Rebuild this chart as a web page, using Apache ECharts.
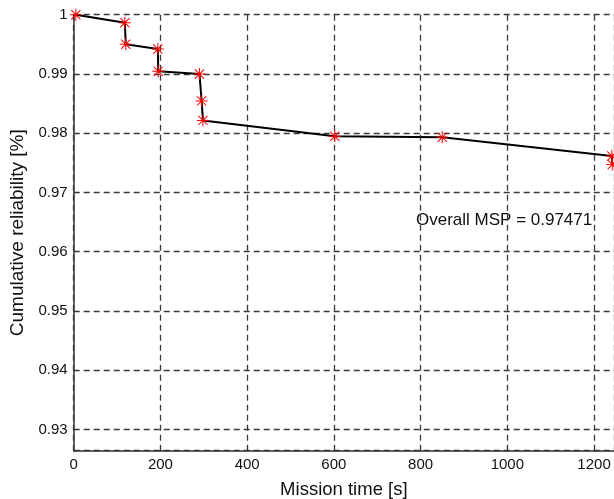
<!DOCTYPE html>
<html>
<head>
<meta charset="utf-8">
<script src="https://cdn.jsdelivr.net/npm/echarts@6/dist/echarts.min.js"></script>
<style>
html,body{margin:0;padding:0;background:#fff;}
#c{width:614px;height:499px;}
</style>
</head>
<body>
<div id="c"></div>
<script>
// Data
const missionTime = [5, 118, 120, 194, 195, 290, 295, 298, 602, 850, 1241, 1242];
const reliability = [1.0, 0.99864, 0.99501, 0.9942, 0.99044, 0.9900, 0.98545, 0.98216, 0.97947, 0.97930, 0.97615, 0.97471];
const overallMSP = 0.97471;
const xTitle = 'Mission time [s]';
const yTitle = 'Cumulative reliability [%]';

const asterisk = 'path://M11 0H13V24H11Z M0 11H24V13H0Z M3.5 2.1L21.9 20.5L20.5 21.9L2.1 3.5Z M20.5 2.1L21.9 3.5L3.5 21.9L2.1 20.5Z';
const font = 'Liberation Sans, Arial, Helvetica, sans-serif';
const gridLine = {show: true, lineStyle: {color: '#3a3a3a', width: 1.3, type: [6, 4]}};

const chart = echarts.init(document.getElementById('c'), null, {renderer: 'canvas'});
chart.setOption({
  animation: false,
  backgroundColor: '#fff',
  grid: {left: 73.7, right: 0, top: 14.7, bottom: 48.3, containLabel: false, outerBoundsMode: 'none'},
  xAxis: {
    type: 'value', min: 0, max: 1246, interval: 200,
    name: xTitle, nameLocation: 'middle', nameGap: 30,
    nameTextStyle: {fontFamily: font, fontSize: 18.5, color: '#111'},
    axisLine: {show: true, onZero: false, lineStyle: {color: '#333', width: 1.5}},
    axisTick: {show: true, inside: true, length: 5, lineStyle: {color: '#333'}},
    axisLabel: {fontFamily: font, fontSize: 15, color: '#111', margin: 7, showMaxLabel: false,
      formatter: v => String(v)},
    splitLine: gridLine
  },
  yAxis: {
    type: 'value', min: 0.9264, max: 1, splitNumber: 7,
    name: yTitle, nameLocation: 'middle', nameGap: 46, nameRotate: 90,
    nameTextStyle: {fontFamily: font, fontSize: 19, color: '#111'},
    axisLine: {show: true, onZero: false, lineStyle: {color: '#333', width: 1.5}},
    axisTick: {show: true, inside: true, length: 5, lineStyle: {color: '#333'}},
    axisLabel: {fontFamily: font, fontSize: 15, color: '#111', margin: 6, showMinLabel: false,
      formatter: v => String(Math.round(v * 100) / 100)},
    splitLine: gridLine
  },
  graphic: [{
    type: 'text', left: 416, top: 212,
    style: {text: 'Overall MSP = ' + overallMSP, fontFamily: font, fontSize: 17, fill: '#111'}
  }],
  series: [{
    type: 'line',
    data: missionTime.map((t, i) => [t, reliability[i]]),
    showAllSymbol: true,
    symbol: asterisk, symbolSize: 12,
    itemStyle: {color: '#ff0000'},
    lineStyle: {color: '#000', width: 2},
    clip: false,
    z: 5
  }]
});
</script>
</body>
</html>
